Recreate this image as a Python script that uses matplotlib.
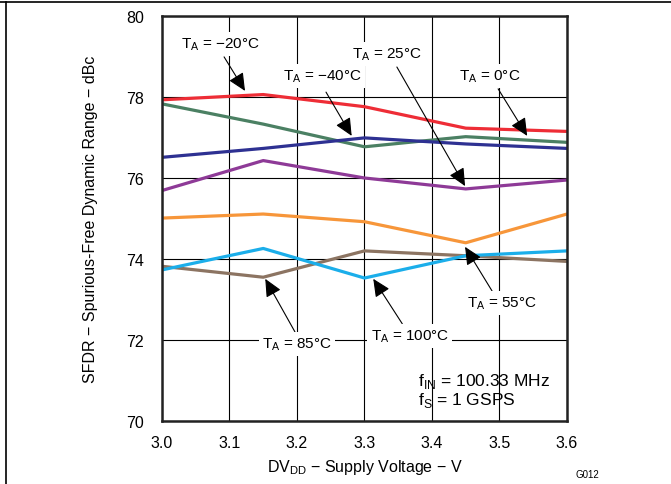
import matplotlib
matplotlib.use("Agg")
import matplotlib.pyplot as plt
from matplotlib.lines import Line2D

plt.rcParams['font.family'] = ['Liberation Sans', 'DejaVu Sans']
plt.rcParams['mathtext.fontset'] = 'custom'
plt.rcParams['mathtext.rm'] = 'Liberation Sans'

# supply voltage points
vdd = [3.0, 3.15, 3.3, 3.45, 3.6]

# SFDR (dBc) per curve
sfdr_red = [77.93, 78.06, 77.76, 77.23, 77.15]
sfdr_green = [77.83, 77.33, 76.77, 77.02, 76.88]
sfdr_blue = [76.51, 76.73, 76.99, 76.84, 76.73]
sfdr_purple = [75.69, 76.43, 76.00, 75.73, 75.95]
sfdr_orange = [75.01, 75.11, 74.92, 74.40, 75.11]
sfdr_brown = [73.82, 73.55, 74.20, 74.08, 73.94]
sfdr_cyan = [73.73, 74.26, 73.53, 74.08, 74.20]

# labels: (text, text pos, arrow tail, arrow tip)
labels = ['\u221220', '\u221240', '25', '0', '85', '100', '55']
label_pos = [(3.086, 79.31), (3.237, 78.52), (3.333, 79.06), (3.486, 78.52),
             (3.200, 71.90), (3.367, 72.10), (3.504, 72.91)]
arrow_tail = [(3.092, 78.99), (3.243, 78.12), (3.348, 78.74), (3.498, 78.20),
              (3.197, 72.20), (3.356, 72.40), (3.489, 73.21)]
arrow_tip = [(3.123, 78.15), (3.281, 77.04), (3.449, 75.80), (3.541, 77.04),
             (3.153, 73.51), (3.313, 73.51), (3.449, 74.30)]

fig = plt.figure(figsize=(6.71, 4.85), dpi=100)
ax = fig.add_axes([0.2414, 0.1299, 0.6036, 0.8351])

lw = 2.3
ax.plot(vdd, sfdr_orange, color='#F7963A', lw=lw)
ax.plot(vdd, sfdr_purple, color='#8E3A97', lw=lw)
ax.plot(vdd, sfdr_brown, color='#8C7462', lw=lw)
ax.plot(vdd, sfdr_cyan, color='#1BAEEA', lw=lw)
ax.plot(vdd, sfdr_green, color='#4B8063', lw=lw)
ax.plot(vdd, sfdr_blue, color='#2E3192', lw=lw)
ax.plot(vdd, sfdr_red, color='#EE2D36', lw=lw)

ax.set_xlim(3.0, 3.6)
ax.set_ylim(70, 80)
ax.set_xticks([3.0, 3.1, 3.2, 3.3, 3.4, 3.5, 3.6])
ax.set_yticks([70, 72, 74, 76, 78, 80])
ax.grid(True, color='black', lw=0.8)
ax.tick_params(length=0, labelsize=11.5)
ax.tick_params(axis='x', pad=10)
ax.tick_params(axis='y', pad=13)
for s in ax.spines.values():
    s.set_linewidth(1.8)
    s.set_color('#222222')

ax.set_xlabel('DV$_\\mathregular{DD}$ \u2212 Supply Voltage \u2212 V', fontsize=11.5, labelpad=5)
ax.set_ylabel('SFDR \u2212 Spurious-Free Dynamic Range \u2212 dBc', fontsize=11.5, labelpad=20)

for lab, pos, tail, tip in zip(labels, label_pos, arrow_tail, arrow_tip):
    ax.annotate('', xy=tip, xytext=tail,
                arrowprops=dict(arrowstyle='-|>,head_length=0.9,head_width=0.42',
                                mutation_scale=12, color='black', lw=0.8,
                                shrinkA=0, shrinkB=0))
    ax.text(pos[0], pos[1], 'T$_\\mathregular{A}$ = ' + lab + '\u00b0C',
            ha='center', va='center', fontsize=11,
            bbox=dict(fc='white', ec='none', pad=2.5))

ax.text(3.379, 70.99, 'f$_\\mathregular{IN}$ = 100.33 MHz', ha='left', va='center', fontsize=12.5)
ax.text(3.379, 70.54, 'f$_\\mathregular{S}$ = 1 GSPS', ha='left', va='center', fontsize=12.5)

fig.text(0.876, 0.01, 'G012', fontsize=7, ha='center', va='bottom')

# page frame lines
fig.add_artist(Line2D([0, 1], [0.994, 0.994], color='black', lw=1.2, transform=fig.transFigure))
fig.add_artist(Line2D([0.009, 0.009], [0, 0.994], color='black', lw=1.2, transform=fig.transFigure))

fig.savefig('out.png', dpi=100)
